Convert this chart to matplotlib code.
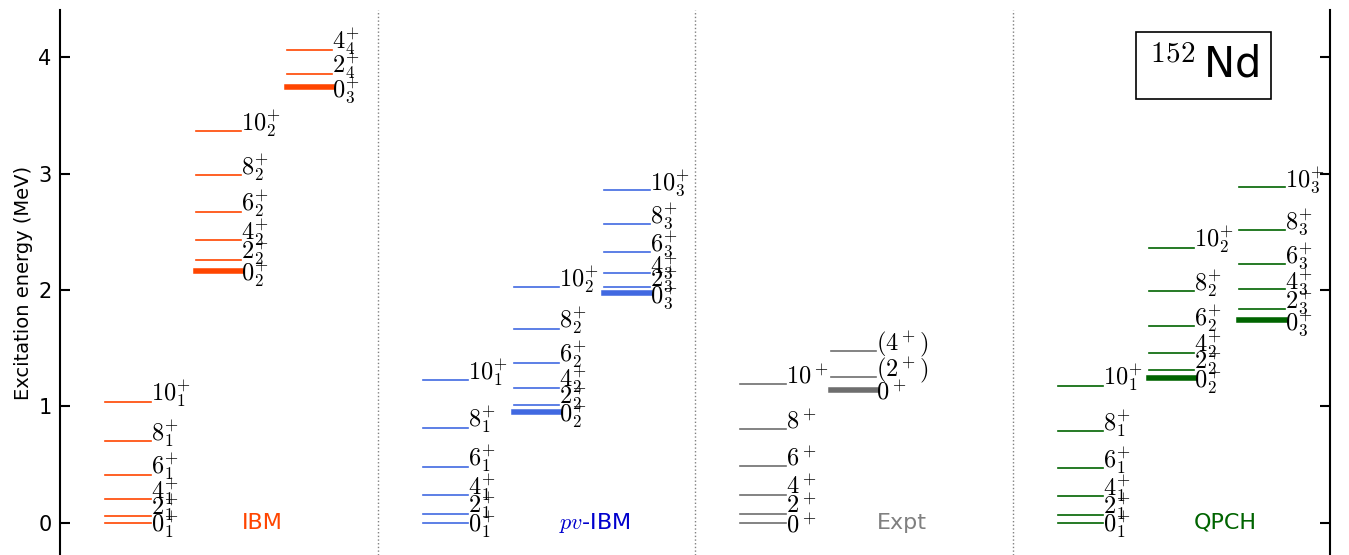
import matplotlib.pyplot as plt

plt.rcParams['mathtext.fontset'] = 'cm'

# ---------------------------------------------------------------
#   Level energies (MeV) per band, for each model / experiment
# ---------------------------------------------------------------
panels = ["IBM", r"$pv$-IBM", "Expt", "QPCH"]

ibm_b1 = [0.0, 0.06, 0.20, 0.41, 0.70, 1.04]
ibm_b2 = [2.166, 2.258, 2.427, 2.67, 2.986, 3.364]
ibm_b3 = [3.745, 3.857, 4.063]
ibm_b1_lab = ["0_1", "2_1", "4_1", "6_1", "8_1", "10_1"]
ibm_b2_lab = ["0_2", "2_2", "4_2", "6_2", "8_2", "10_2"]
ibm_b3_lab = ["0_3", "2_4", "4_4"]

pv_b1 = [0.0, 0.075, 0.235, 0.481, 0.814, 1.224]
pv_b2 = [0.949, 1.014, 1.158, 1.375, 1.665, 2.023]
pv_b3 = [1.972, 2.026, 2.143, 2.327, 2.567, 2.857]
pv_b1_lab = ["0_1", "2_1", "4_1", "6_1", "8_1", "10_1"]
pv_b2_lab = ["0_2", "2_2", "4_2", "6_2", "8_2", "10_2"]
pv_b3_lab = ["0_3", "2_3", "4_3", "6_3", "8_3", "10_3"]

exp_b1 = [0.0, 0.073, 0.237, 0.484, 0.804, 1.19]
exp_b2 = [1.138, 1.252, 1.473]
exp_b1_lab = ["0^+", "2^+", "4^+", "6^+", "8^+", "10^+"]
exp_b2_lab = ["0^+", "(2^+)", "(4^+)"]

qp_b1 = [0.0, 0.069, 0.227, 0.468, 0.786, 1.175]
qp_b2 = [1.246, 1.316, 1.461, 1.688, 1.989, 2.364]
qp_b3 = [1.742, 1.837, 2.006, 2.223, 2.516, 2.883]
qp_b1_lab = ["0_1", "2_1", "4_1", "6_1", "8_1", "10_1"]
qp_b2_lab = ["0_2", "2_2", "4_2", "6_2", "8_2", "10_2"]
qp_b3_lab = ["0_3", "2_3", "4_3", "6_3", "8_3", "10_3"]

c_ibm = "orangered"
c_pv = "royalblue"
c_exp = "#6e6e6e"
c_qp = "darkgreen"

fig = plt.figure(figsize=(13.49, 5.55), dpi=100)
ax = fig.add_axes([60/1349, 0, 1270/1349, 545/555])


def banda(ax, painel, col, energias, rotulos, cor, cabeca_grossa=False, mais=True):
    x0 = painel + (2*col + 1) / 7.0
    x1 = x0 + 1 / 7.0
    for i, (e, r) in enumerate(zip(energias, rotulos)):
        lw = 4 if (i == 0 and cabeca_grossa) else 1.2
        ax.plot([x0, x1], [e, e], color=cor, lw=lw)
        txt = r"$%s^{+}$" % r if mais else r"$%s$" % r
        ye = e - 0.09 if r.startswith("0") else e
        ax.text(x1, ye, txt, fontsize=17.5, ha="left", va="baseline")


banda(ax, 0, 0, ibm_b1, ibm_b1_lab, c_ibm)
banda(ax, 0, 1, ibm_b2, ibm_b2_lab, c_ibm, True)
banda(ax, 0, 2, ibm_b3, ibm_b3_lab, c_ibm, True)

banda(ax, 1, 0, pv_b1, pv_b1_lab, c_pv)
banda(ax, 1, 1, pv_b2, pv_b2_lab, c_pv, True)
banda(ax, 1, 2, pv_b3, pv_b3_lab, c_pv, True)

banda(ax, 2, 0, exp_b1, exp_b1_lab, c_exp, mais=False)
banda(ax, 2, 1, exp_b2, exp_b2_lab, c_exp, True, mais=False)

banda(ax, 3, 0, qp_b1, qp_b1_lab, c_qp)
banda(ax, 3, 1, qp_b2, qp_b2_lab, c_qp, True)
banda(ax, 3, 2, qp_b3, qp_b3_lab, c_qp, True)

# nomes dos paineis
cores_nome = [c_ibm, "mediumblue", "gray", c_qp]
for k, (nome, cor) in enumerate(zip(panels, cores_nome)):
    ax.text(k + 4/7.0, 0.0, nome, color=cor, fontsize=16, ha="left", va="center")

# separadores
for k in [1, 2, 3]:
    ax.axvline(k, color="gray", lw=1, ls=":")

ax.text(3.602, 3.93, r"$^{152}\,$Nd", fontsize=30, ha="center", va="center",
        bbox=dict(boxstyle="square,pad=0.3", fc="white", ec="black", lw=1.2))

ax.set_xlim(0, 4)
ax.set_ylim(-0.278, 4.407)
ax.set_yticks([0, 1, 2, 3, 4])
ax.set_xticks([])
ax.tick_params(axis="y", direction="in", length=7, width=1.5, left=True, right=True,
               labelsize=15, pad=6)
ax.spines["top"].set_visible(False)
ax.spines["bottom"].set_visible(False)
ax.spines["left"].set_linewidth(1.5)
ax.spines["right"].set_linewidth(1.5)
ax.set_ylabel("Excitation energy (MeV)", fontsize=14)

fig.savefig("out.png", dpi=100)
